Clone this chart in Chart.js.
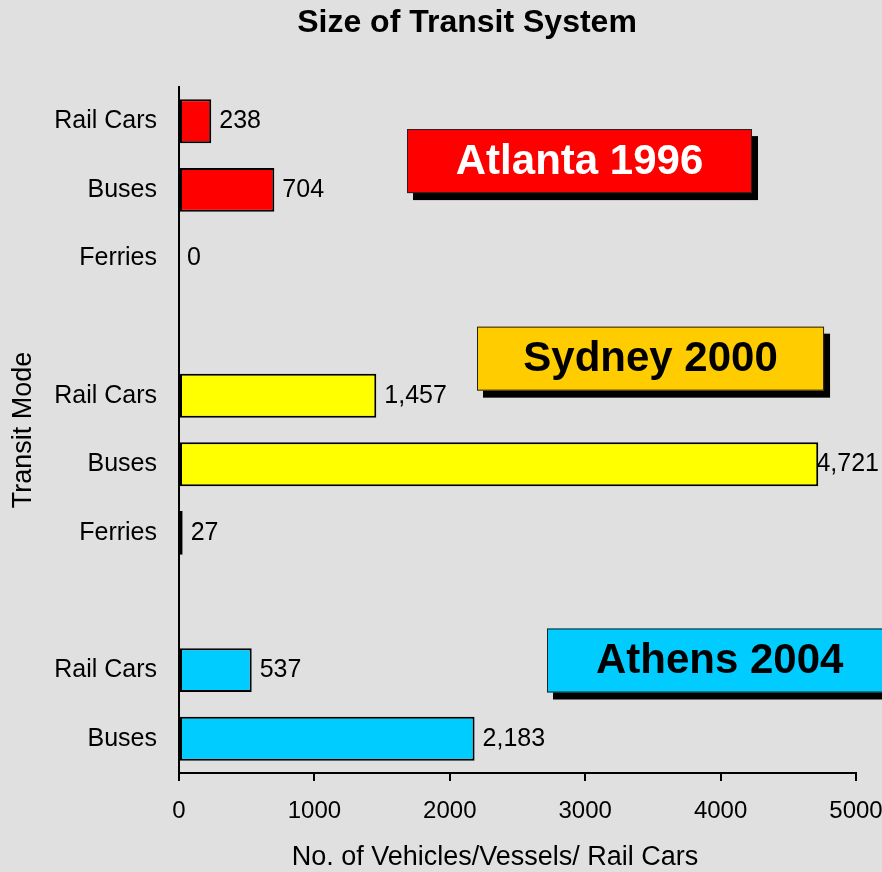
<!DOCTYPE html>
<html lang="en">

<head>
    <meta charset="UTF-8">
    <title>Size of Transit System</title>
    <script src="https://cdn.jsdelivr.net/npm/chart.js@4.4.1/dist/chart.umd.min.js"></script>
    <style>
        body { margin: 0; background: #e0e0e0; }
        canvas { display: block; }
    </style>
</head>

<body>
    <canvas id="transitChart" width="882" height="872"></canvas>

    <script>
        // category labels (empty strings are the gaps between the cities)
        const modes = ['Rail Cars', 'Buses', 'Ferries', '', 'Rail Cars', 'Buses', 'Ferries', '', 'Rail Cars', 'Buses'];

        // vehicles per city, one slot per row above
        const atlanta = [238, 704, 0, null, null, null, null, null, null, null];
        const sydney = [null, null, null, null, 1457, 4721, 27, null, null, null];
        const athens = [null, null, null, null, null, null, null, null, 537, 2183];

        const xTicks = [0, 1000, 2000, 3000, 4000, 5000];

        const FONT = 'Liberation Sans, Arial, sans-serif';
        const chartTitle = 'Size of Transit System';
        const xTitle = 'No. of Vehicles/Vessels/ Rail Cars';

        // city banners, placed in axis units (x range, y row index)
        const banners = [
            { text: 'Atlanta 1996', fill: '#ff0000', color: '#ffffff', x0: 1684, x1: 4232, row: 0.58 },
            { text: 'Sydney 2000', fill: '#ffcc00', color: '#000000', x0: 2201, x1: 4764, row: 3.46 },
            { text: 'Athens 2004', fill: '#00ccff', color: '#000000', x0: 2718, x1: 5268, row: 7.86 }
        ];

        const bgPlugin = {
            id: 'bg',
            beforeDraw(chart) {
                const ctx = chart.ctx;
                ctx.save();
                ctx.fillStyle = '#e0e0e0';
                ctx.fillRect(0, 0, chart.width, chart.height);
                ctx.restore();
            }
        };

        // chart title and x axis title (both sit off-centre in the original)
        const titlesPlugin = {
            id: 'titles',
            afterDraw(chart) {
                const ctx = chart.ctx;
                ctx.save();
                ctx.fillStyle = '#000';
                ctx.textAlign = 'center';
                ctx.textBaseline = 'middle';
                ctx.font = 'bold 32px ' + FONT;
                ctx.fillText(chartTitle, 467, 23);
                ctx.font = '27px ' + FONT;
                ctx.fillText(xTitle, 495, 858);
                ctx.restore();
            }
        };

        // number after each bar
        const valueLabels = {
            id: 'valueLabels',
            afterDatasetsDraw(chart) {
                const ctx = chart.ctx;
                ctx.save();
                ctx.font = '25px ' + FONT;
                ctx.fillStyle = '#000';
                ctx.textBaseline = 'middle';
                ctx.textAlign = 'left';
                chart.data.datasets.forEach((ds, i) => {
                    const meta = chart.getDatasetMeta(i);
                    meta.data.forEach((bar, j) => {
                        const v = ds.data[j];
                        if (v === null) return;
                        const txt = v.toLocaleString('en-US');
                        const w = ctx.measureText(txt).width;
                        let x = bar.x + 8;
                        if (x + w > chart.width - 3) x = chart.width - 3 - w;
                        ctx.fillText(txt, x, bar.y);
                    });
                });
                ctx.restore();
            }
        };

        const bannerPlugin = {
            id: 'banners',
            afterDraw(chart) {
                const ctx = chart.ctx;
                const xs = chart.scales.x, ys = chart.scales.y;
                const h = 64;
                ctx.save();
                banners.forEach(b => {
                    const left = xs.getPixelForValue(b.x0);
                    const right = xs.getPixelForValue(b.x1);
                    const cy = ys.getPixelForValue(b.row);
                    const top = cy - h / 2;
                    // shadow
                    ctx.fillStyle = '#000';
                    ctx.fillRect(left + 6, top + 7, right - left, h);
                    // box
                    ctx.fillStyle = b.fill;
                    ctx.fillRect(left, top, right - left, h);
                    ctx.strokeStyle = '#222';
                    ctx.lineWidth = 1;
                    ctx.strokeRect(left + 0.5, top + 0.5, right - left - 1, h - 1);
                    ctx.fillStyle = b.color;
                    ctx.font = 'bold 42px ' + FONT;
                    ctx.textAlign = 'center';
                    ctx.textBaseline = 'middle';
                    ctx.fillText(b.text, (left + right) / 2, cy + 1);
                });
                ctx.restore();
            }
        };

        function barSet(data, color) {
            return {
                data: data,
                backgroundColor: color,
                borderColor: '#000',
                borderWidth: 2,
                borderSkipped: false,
                grouped: false,
                barPercentage: 0.64,
                categoryPercentage: 1
            };
        }

        new Chart(document.getElementById('transitChart'), {
            type: 'bar',
            data: {
                labels: modes,
                datasets: [
                    barSet(atlanta, '#ff0000'),
                    barSet(sydney, '#ffff00'),
                    barSet(athens, '#00ccff')
                ]
            },
            options: {
                indexAxis: 'y',
                responsive: false,
                devicePixelRatio: 1,
                animation: false,
                layout: { padding: { left: 0, right: 26, top: 87, bottom: 0 } },
                plugins: {
                    legend: { display: false },
                    tooltip: { enabled: false },
                    title: { display: false }
                },
                scales: {
                    x: {
                        min: 0,
                        max: 5000,
                        afterBuildTicks: axis => { axis.ticks = xTicks.map(v => ({ value: v })); },
                        afterFit: axis => {
                            axis.height = 99;
                            axis.paddingLeft = 0;
                            axis.paddingRight = 0;
                        },
                        ticks: {
                            color: '#000',
                            font: { family: FONT, size: 24 },
                            padding: 16,
                            callback: v => String(v)
                        },
                        grid: { drawOnChartArea: false, drawTicks: true, tickLength: 8, color: '#000', lineWidth: 2 },
                        border: { display: true, color: '#000', width: 2 }
                    },
                    y: {
                        afterFit: axis => { axis.width = 179; },
                        ticks: {
                            color: '#000',
                            font: { family: FONT, size: 25 },
                            padding: 22
                        },
                        grid: { display: false, drawTicks: false },
                        border: { display: true, color: '#000', width: 2 },
                        title: {
                            display: true,
                            text: 'Transit Mode',
                            color: '#000',
                            font: { family: FONT, size: 27 },
                            padding: 7
                        }
                    }
                }
            },
            plugins: [bgPlugin, valueLabels, bannerPlugin, titlesPlugin]
        });
    </script>
</body>

</html>
